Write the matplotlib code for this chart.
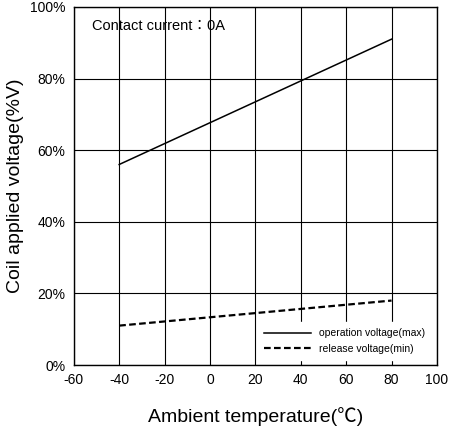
import matplotlib
matplotlib.use('Agg')
import matplotlib.pyplot as plt

plt.rcParams['font.family'] = ['Liberation Sans', 'Noto Sans CJK JP', 'DejaVu Sans']
plt.rcParams['axes.unicode_minus'] = False

temps = [-40, 80]
operation = [56, 91]
release = [11, 18]
xticks = [-60, -40, -20, 0, 20, 40, 60, 80, 100]
yticks = [0, 20, 40, 60, 80, 100]

fig = plt.figure(figsize=(4.5, 4.33), dpi=100)
ax = fig.add_axes([0.164, 0.157, 0.807, 0.827])
ax.plot(temps, operation, color='black', lw=1.1, label='operation voltage(max)')
ax.plot(temps, release, color='black', lw=1.6, ls=(0, (3, 1.5)), label='release voltage(min)')
ax.set_xlim(-60, 100)
ax.set_ylim(0, 100)
ax.set_xticks(xticks)
ax.set_yticks(yticks)
ax.set_yticklabels(['{}%'.format(v) for v in yticks])
ax.grid(True, color='black', lw=0.8)
ax.tick_params(length=0, labelsize=10, pad=6)
for s in ax.spines.values():
    s.set_linewidth(1.0)
ax.set_xlabel('Ambient temperature(℃)', fontsize=14, labelpad=14)
ax.set_ylabel('Coil applied voltage(%V)', fontsize=14, labelpad=4)
ax.text(-52, 93.5, 'Contact current：0A', fontsize=10.5)
leg = ax.legend(loc='lower right', bbox_to_anchor=(1.0, 0.0), fontsize=7.5,
                frameon=True, fancybox=False, edgecolor='white', framealpha=1,
                handlelength=4.5, borderpad=0.6)
plt.savefig('out.png', dpi=100)
